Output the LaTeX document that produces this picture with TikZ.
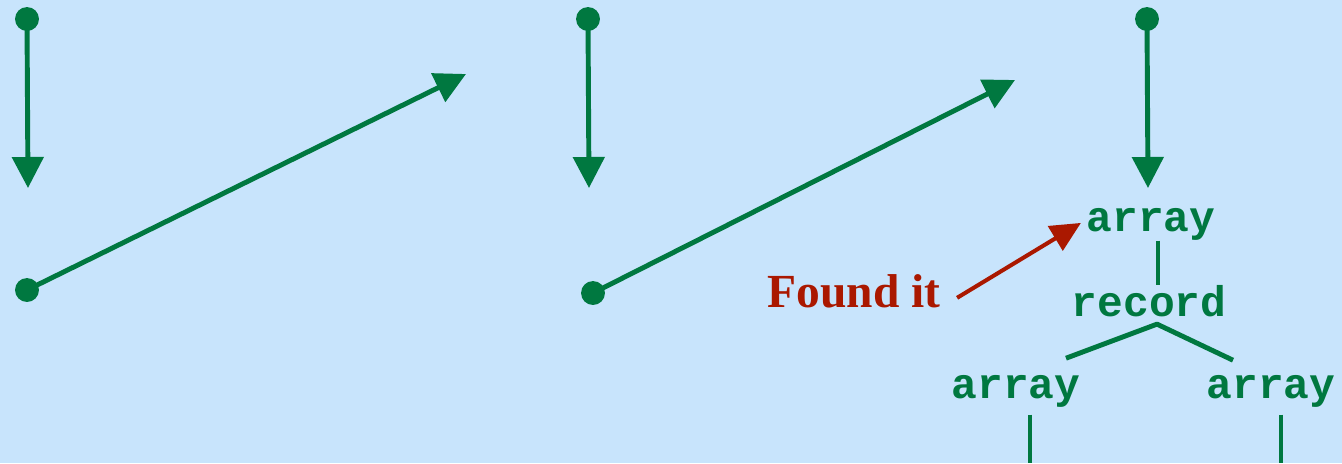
\documentclass[tikz,border=0pt]{standalone}
\usepackage{fontspec}
\setmainfont{Liberation Serif}
\setmonofont{Liberation Mono}
\usetikzlibrary{arrows.meta}
\definecolor{sky}{RGB}{200,228,252}
\definecolor{ptrgreen}{RGB}{0,120,64}
\definecolor{hitred}{RGB}{170,24,0}
\begin{document}
\begin{tikzpicture}[x=.01cm, y=-.01cm, line join=round, >={Triangle[length=.31cm,width=.31cm]},
  ptr/.style={ptrgreen, line width=1.4pt},
  tree/.style={ptrgreen, line width=1.4pt},
  hit/.style={hitred, line width=1.15pt, -{Triangle[length=.3cm,width=.28cm]}},
  typ/.style={text=ptrgreen, font=\fontsize{12.2}{14}\selectfont\ttfamily\bfseries, inner sep=0pt, anchor=base}]
\fill[sky] (0,0) rectangle (1342,463);
\useasboundingbox (0,0) rectangle (1342,463);
% pointers going down
\foreach \n/\x in {a/27, b/588, c/1147}{
  \coordinate (s\n) at (\x,19);
  \coordinate (t\n) at (\x+1,188);
  \draw[ptr,->] (s\n) -- (t\n);
  \fill[ptrgreen] (s\n) circle (3.4pt);
}
% pointers going up
\foreach \n/\x/\y/\u/\v in {d/27/290/466/74, e/593/293/1015/80}{
  \coordinate (s\n) at (\x,\y);
  \coordinate (t\n) at (\u,\v);
  \draw[ptr,->] (s\n) -- (t\n);
  \fill[ptrgreen] (s\n) circle (3.4pt);
}
% the type tree
\node[typ] (arr) at (1151,231) {array};
\node[typ] (rec) at (1149,316) {record};
\node[typ] (arrl) at (1016,398) {array};
\node[typ] (arrr) at (1271,398) {array};
\draw[tree] ([shift={(7,0)}]arr.south) -- ([shift={(9,1)}]rec.north);
\draw[tree] ([shift={(50,-16)}]arrl.north) -- ([shift={(8,7)}]rec.south) -- ([shift={(-38,-14)}]arrr.north);
\coordinate (endl) at (1030,463);
\coordinate (endr) at (1281,463);
\draw[tree] (endl |- arrl.south) ++(0,7) -- (endl);
\draw[tree] (endr |- arrr.south) ++(0,7) -- (endr);
% found it
\node[text=hitred, font=\fontsize{13.5}{16}\selectfont\bfseries, inner sep=0pt, anchor=base] (found) at (854,307) {Found it};
\draw[hit] ([shift={(16,7)}]found.east) -- ([shift={(-5,-1)}]arr.west);
\end{tikzpicture}
\end{document}
